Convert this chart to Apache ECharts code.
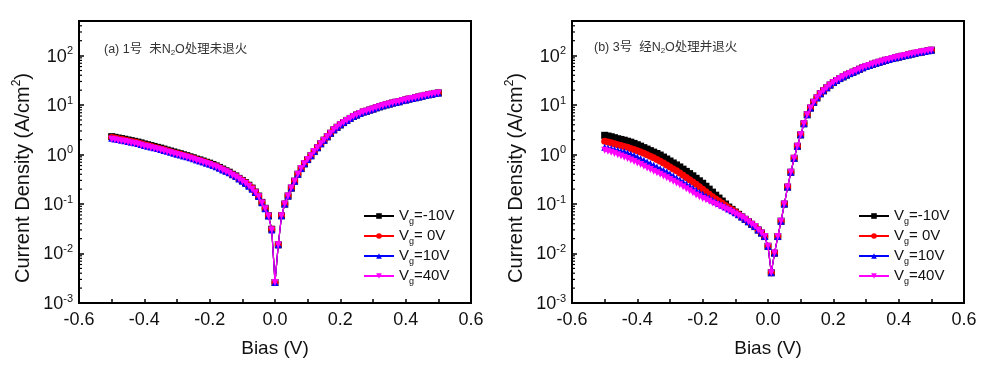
<!DOCTYPE html>
<html><head><meta charset="utf-8">
<script src="https://cdn.jsdelivr.net/npm/echarts@6/dist/echarts.min.js"></script>
<style>html,body{margin:0;padding:0;background:#fff}#c{width:997px;height:365px}</style>
</head><body><div id="c"></div>
<script>
// Bias voltage grid (V)
const biasNeg = [-0.50,-0.49,-0.48,-0.47,-0.46,-0.45,-0.44,-0.43,-0.42,-0.41,-0.40,-0.39,-0.38,-0.37,-0.36,-0.35,-0.34,-0.33,-0.32,-0.31,-0.30,-0.29,-0.28,-0.27,-0.26,-0.25,-0.24,-0.23,-0.22,-0.21,-0.20,-0.19,-0.18,-0.17,-0.16,-0.15,-0.14,-0.13,-0.12,-0.11,-0.10,-0.09,-0.08,-0.07,-0.06,-0.05,-0.04,-0.03,-0.02,-0.01];
const biasPos = [0.00,0.01,0.02,0.03,0.04,0.05,0.06,0.07,0.08,0.09,0.10,0.11,0.12,0.13,0.14,0.15,0.16,0.17,0.18,0.19,0.20,0.21,0.22,0.23,0.24,0.25,0.26,0.27,0.28,0.29,0.30,0.31,0.32,0.33,0.34,0.35,0.36,0.37,0.38,0.39,0.40,0.41,0.42,0.43,0.44,0.45,0.46,0.47,0.48,0.49,0.50];

// Panel (a): current density (A/cm^2), negative bias branch per gate voltage
const aNegM10 = [2.30,2.23,2.16,2.10,2.04,1.97,1.91,1.85,1.79,1.72,1.64,1.58,1.52,1.46,1.40,1.35,1.29,1.23,1.18,1.13,1.08,1.04,0.99,0.95,0.90,0.86,0.81,0.78,0.74,0.70,0.67,0.63,0.59,0.55,0.51,0.47,0.44,0.40,0.37,0.33,0.30,0.27,0.24,0.21,0.175,0.145,0.108,0.082,0.058,0.031];
const aNeg0 = [2.22,2.15,2.09,2.03,1.97,1.90,1.84,1.79,1.73,1.66,1.58,1.53,1.47,1.41,1.36,1.30,1.25,1.19,1.14,1.09,1.05,1.01,0.96,0.92,0.88,0.84,0.79,0.76,0.72,0.69,0.65,0.61,0.58,0.54,0.50,0.46,0.43,0.39,0.36,0.33,0.30,0.27,0.24,0.21,0.173,0.143,0.107,0.081,0.058,0.031];
const aNeg10 = [2.13,2.07,2.01,1.95,1.90,1.83,1.78,1.73,1.67,1.60,1.53,1.48,1.42,1.37,1.32,1.27,1.21,1.16,1.11,1.06,1.02,0.98,0.94,0.90,0.86,0.82,0.78,0.74,0.71,0.67,0.64,0.60,0.57,0.53,0.49,0.46,0.43,0.39,0.36,0.32,0.29,0.26,0.23,0.20,0.172,0.142,0.106,0.080,0.057,0.030];
const aNeg40 = [2.05,1.99,1.93,1.88,1.83,1.77,1.72,1.67,1.62,1.55,1.48,1.43,1.38,1.33,1.28,1.23,1.18,1.13,1.09,1.04,1.00,0.96,0.92,0.88,0.84,0.80,0.76,0.73,0.69,0.66,0.63,0.59,0.56,0.52,0.48,0.45,0.42,0.38,0.35,0.32,0.29,0.26,0.23,0.20,0.17,0.14,0.105,0.080,0.057,0.030];
// Panel (a): positive bias branch (all gate voltages overlap)
const aPos = [0.0026,0.015,0.058,0.10,0.145,0.21,0.29,0.40,0.52,0.65,0.79,0.95,1.15,1.38,1.66,1.95,2.29,2.69,3.16,3.55,3.98,4.42,4.90,5.37,5.89,6.31,6.76,7.24,7.50,7.94,8.32,8.81,9.23,9.66,10.1,10.5,11.0,11.4,11.7,12.3,12.7,13.2,13.6,14.1,14.6,15.1,15.7,16.2,16.6,17.2,17.6];

// Panel (b): negative bias branch per gate voltage
const bNegM10 = [2.45,2.37,2.29,2.19,2.09,2.02,1.95,1.86,1.78,1.68,1.58,1.48,1.38,1.29,1.20,1.12,1.05,0.977,0.891,0.813,0.741,0.676,0.617,0.562,0.507,0.457,0.412,0.372,0.331,0.295,0.263,0.229,0.200,0.174,0.151,0.132,0.115,0.100,0.087,0.078,0.069,0.062,0.055,0.049,0.044,0.039,0.035,0.030,0.026,0.022];
const bNeg0 = [1.86,1.80,1.74,1.66,1.58,1.53,1.46,1.40,1.33,1.26,1.19,1.12,1.06,0.989,0.923,0.861,0.794,0.733,0.676,0.617,0.562,0.513,0.468,0.422,0.380,0.343,0.309,0.279,0.251,0.224,0.200,0.178,0.158,0.141,0.127,0.115,0.104,0.093,0.084,0.077,0.069,0.062,0.055,0.049,0.044,0.039,0.035,0.030,0.026,0.022];
const bNeg10 = [1.41,1.36,1.32,1.26,1.22,1.17,1.14,1.08,1.02,0.955,0.891,0.822,0.767,0.708,0.661,0.610,0.562,0.519,0.479,0.442,0.403,0.367,0.335,0.305,0.279,0.254,0.232,0.209,0.191,0.172,0.157,0.143,0.132,0.120,0.111,0.102,0.094,0.087,0.079,0.073,0.067,0.061,0.055,0.049,0.044,0.039,0.035,0.030,0.026,0.022];
const bNeg40 = [1.22,1.16,1.11,1.05,0.989,0.933,0.881,0.832,0.776,0.724,0.676,0.631,0.582,0.537,0.501,0.462,0.427,0.398,0.367,0.339,0.313,0.288,0.266,0.245,0.224,0.204,0.186,0.170,0.153,0.141,0.130,0.122,0.114,0.105,0.098,0.091,0.085,0.079,0.074,0.068,0.063,0.058,0.054,0.049,0.044,0.039,0.035,0.030,0.026,0.022];
// Panel (b): positive bias branch (all gate voltages overlap)
const bPos = [0.014,0.0041,0.0102,0.022,0.045,0.10,0.22,0.44,0.84,1.47,2.5,4.2,6.4,8.7,11.4,14.0,17.0,19.5,22.4,25.4,28.5,31.3,34.3,37.2,40.3,43.2,46.2,49.5,53.1,56.9,60.3,63.1,66.8,70.0,73.3,76.7,80.4,83.2,87.1,90.2,93.3,96.6,100,103.5,107.2,110.9,114.8,117.5,121.6,125.9,128.8];

const seriesNames = ['Vg=-10V','Vg= 0V','Vg=10V','Vg=40V'];
const xTicks = [-0.6,-0.4,-0.2,0.0,0.2,0.4,0.6];
const yMinorTicks = [0.002,0.003,0.004,0.005,0.006,0.007,0.008,0.009,0.02,0.03,0.04,0.05,0.06,0.07,0.08,0.09,0.2,0.3,0.4,0.5,0.6,0.7,0.8,0.9,2,3,4,5,6,7,8,9,20,30,40,50,60,70,80,90,200,300,400];
const panelTitles = ['{t|(a) 1号  未N}{u|2}{t|O处理未退火}','{t|(b) 3号  经N}{u|2}{t|O处理并退火}'];

const colors = ['#000000','#ff0000','#0000ff','#ff00ff'];
const symbols = ['rect','circle','triangle','triangle'];
const rotates = [0,0,0,180];
const FONT = '"Liberation Sans", Arial, "Noto Sans CJK SC", sans-serif';

const grids = [
  {left:79, top:21, width:392, height:282, show:true, borderColor:'#000', borderWidth:2},
  {left:572, top:21, width:392, height:282, show:true, borderColor:'#000', borderWidth:2}
];

function xAxis(i){
  return {type:'value', gridIndex:i, min:-0.6, max:0.6, interval:0.2,
    name:'Bias (V)', nameLocation:'middle', nameGap:36,
    nameTextStyle:{fontSize:19, color:'#111', fontFamily:FONT},
    axisLine:{onZero:false, lineStyle:{color:'#000', width:2}},
    axisTick:{inside:true, length:4, lineStyle:{color:'#000', width:1.5}},
    minorTick:{show:true, splitNumber:2, length:4, lineStyle:{color:'#000', width:1.5}},
    splitLine:{show:false}, minorSplitLine:{show:false},
    axisLabel:{fontSize:18, color:'#111', margin:8, fontFamily:FONT,
      formatter: v => { const t = xTicks.find(k => Math.abs(k - v) < 1e-9); return t === undefined ? '' : t.toFixed(1); }}
  };
}
function yAxis(i){
  return {type:'log', logBase:10, gridIndex:i, min:0.001, max:500,
    name:'{a|Current Density (A/cm}{s|2}{a|)}', nameLocation:'middle', nameGap:46, nameRotate:90,
    nameTextStyle:{padding:[0,32,0,0], rich:{a:{fontSize:20, color:'#111', fontFamily:FONT, lineHeight:22, verticalAlign:'bottom'}, s:{fontSize:12, color:'#111', fontFamily:FONT, verticalAlign:'top', lineHeight:12}}},
    axisLine:{onZero:false, lineStyle:{color:'#000', width:2}},
    axisTick:{inside:true, length:5, lineStyle:{color:'#000', width:1.5}},
    splitLine:{show:false},
    axisLabel:{margin:6, showMaxLabel:false,
      formatter: v => { const e = Math.log10(v); const r = Math.round(e); if (Math.abs(e - r) > 1e-6) return ''; return '{a|10}{s|' + r + '}'; },
      rich:{a:{fontSize:18, color:'#111', fontFamily:FONT, lineHeight:20, verticalAlign:'bottom'}, s:{fontSize:11, color:'#111', fontFamily:FONT, lineHeight:11, verticalAlign:'top'}}
    }
  };
}

function legend(i, left){
  return {orient:'vertical', left:left, top:203, itemWidth:30, itemHeight:7, itemGap:2,
    data: seriesNames, inactiveColor:'#ccc',
    formatter: name => '{a|V}{b|g}{a|' + name.slice(2) + '}',
    textStyle:{rich:{
      a:{fontSize:15, color:'#111', fontFamily:FONT, lineHeight:16, verticalAlign:'top'},
      b:{fontSize:9, color:'#111', fontFamily:FONT, lineHeight:9, padding:[9,0,0,0], verticalAlign:'top'}
    }}
  };
}

const negSets = [[aNegM10,aNeg0,aNeg10,aNeg40],[bNegM10,bNeg0,bNeg10,bNeg40]];
const posSets = [aPos, bPos];

const series = [];
for (let p = 0; p < 2; p++) {
  for (let k = 0; k < 4; k++) {
    const neg = negSets[p][k];
    const data = biasNeg.map((x, j) => [x, neg[j]]).concat(biasPos.map((x, j) => [x, posSets[p][j]]));
    series.push({
      type:'line', name:seriesNames[k], xAxisIndex:p, yAxisIndex:p, data:data,
      symbol:symbols[k], symbolRotate:rotates[k], symbolSize:7, showSymbol:true, showAllSymbol:true,
      lineStyle:{color:colors[k], width:1.2}, itemStyle:{color:colors[k]}, color:colors[k],
      z:3 + k
    });
  }
  series.push({
    type:'custom', xAxisIndex:p, yAxisIndex:p, silent:true, z:10, clip:false,
    data: yMinorTicks.map(v => [-0.6, v]),
    renderItem: (params, api) => {
      const pt = api.coord([api.value(0), api.value(1)]);
      return {type:'line', shape:{x1:pt[0], y1:pt[1], x2:pt[0] + 3, y2:pt[1]}, style:{stroke:'#000', lineWidth:1.2}};
    }
  });
}

const titleRich = {
  t:{fontSize:12.5, fontWeight:'normal', color:'#333', fontFamily:FONT},
  u:{fontSize:8, fontWeight:'normal', color:'#333', fontFamily:FONT, padding:[7,0,0,0]}
};

const option = {
  animation:false,
  backgroundColor:'#fff',
  textStyle:{fontFamily:FONT},
  grid: grids,
  xAxis:[xAxis(0), xAxis(1)],
  yAxis:[yAxis(0), yAxis(1)],
  legend:[legend(0, 358), legend(1, 853)],
  title:[
    {text:panelTitles[0], left:99, top:37, textStyle:{fontWeight:'normal', rich:titleRich}},
    {text:panelTitles[1], left:589, top:35, textStyle:{fontWeight:'normal', rich:titleRich}}
  ],
  series: series
};

const chart = echarts.init(document.getElementById('c'), null, {renderer:'canvas'});
chart.setOption(option);
</script>
</body></html>
